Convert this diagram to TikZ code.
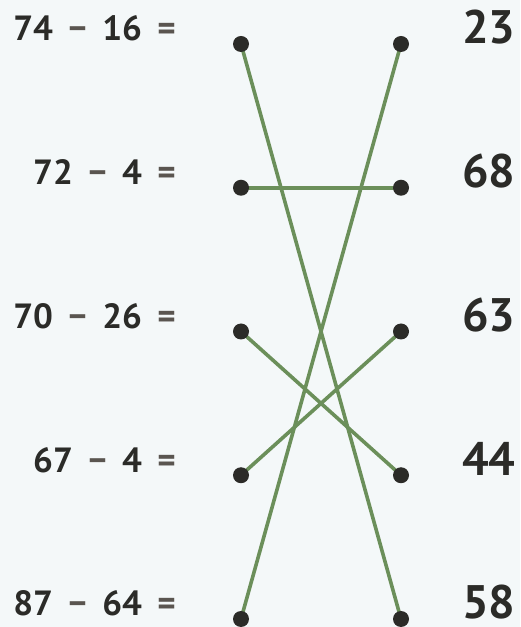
\documentclass[tikz,border=0pt]{standalone}
\usepackage{fontspec}
\setmainfont{PT Sans}
\usetikzlibrary{backgrounds}

\definecolor{bgpaper}{HTML}{F4F8F9}
\definecolor{inkdark}{HTML}{2B2B28}
\definecolor{opgray}{HTML}{5A5550}
\definecolor{linkgreen}{HTML}{6B8F5A}

\tikzset{
  dot/.style={circle,fill=inkdark,inner sep=0pt,minimum size=16pt},
  sumlabel/.style={anchor=base east,inner sep=0pt,text=inkdark,
    font=\fontsize{35}{40}\selectfont\bfseries},
  result/.style={anchor=base west,inner sep=0pt,text=inkdark,
    font=\fontsize{47}{54}\selectfont\bfseries},
  link/.style={linkgreen,line width=3.6pt}
}
\newcommand{\opgap}{\hspace{0.44em}}
\newcommand{\subsum}[2]{#1\opgap{\color{opgray}\textminus}\opgap#2\opgap{\color{opgray}=}}

\begin{document}
\begin{tikzpicture}[x=1pt,y=1pt]
  \fill[bgpaper] (0,0) rectangle (520,627);
  \useasboundingbox (0,0) rectangle (520,627);
  % the subtractions on the left
  \node[sumlabel] (s1) at (176,586) {\subsum{74}{16}};
  \node[sumlabel] (s2) at (176,442.25) {\subsum{72}{4}};
  \node[sumlabel] (s3) at (176,298.5) {\subsum{70}{26}};
  \node[sumlabel] (s4) at (176,154.75) {\subsum{67}{4}};
  \node[sumlabel] (s5) at (176,11) {\subsum{87}{64}};
  % the answers on the right
  \node[result] (r1) at (462,583) {23};
  \node[result] (r2) at (462,439.25) {68};
  \node[result] (r3) at (462,295.5) {63};
  \node[result] (r4) at (462,151.75) {44};
  \node[result] (r5) at (462,9) {58};
  % the dots
  \foreach \i/\y in {1/583,2/439.25,3/295.5,4/151.75,5/8} {
    \coordinate (a\i) at (241,\y);
    \coordinate (b\i) at (401,\y);
  }
  % matching lines
  \draw[link] (a1) -- (b5);
  \draw[link] (a2) -- (b2);
  \draw[link] (a3) -- (b4);
  \draw[link] (a4) -- (b3);
  \draw[link] (a5) -- (b1);
  \foreach \i in {1,...,5} {
    \node[dot] (p\i) at (a\i) {};
    \node[dot] (q\i) at (b\i) {};
  }
\end{tikzpicture}
\end{document}
